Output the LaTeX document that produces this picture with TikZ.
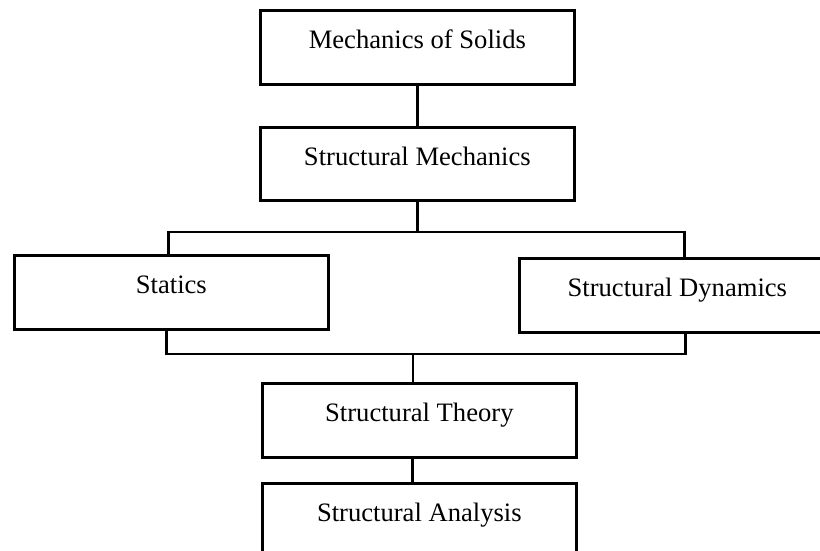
\documentclass[tikz,border=0pt]{standalone}
\usepackage{fontspec}
\setmainfont{Liberation Serif}
\usetikzlibrary{calc}
\tikzset{
  box/.style={draw=black, line width=2.7pt, inner sep=0pt, text height=38pt, text depth=36pt,
    minimum width=314pt, anchor=north west, font=\fontsize{26.6}{32}\selectfont},
  link/.style={draw=black, line width=2.3pt}
}
\begin{document}
\begin{tikzpicture}[x=1pt,y=1pt]
\useasboundingbox (0,0) rectangle (820,-550);
\node[box] (A) at (259,-9) {Mechanics of Solids};
\node[box, text depth=35pt] (B) at (259,-126) {Structural Mechanics};
\node[box] (C) at (13,-254) {Statics};
\node[box, minimum width=316pt] (D) at (518,-257) {Structural Dynamics};
\node[box] (E) at (261,-382) {Structural Theory};
\node[box] (F) at (261,-482) {Structural Analysis};
\coordinate (j1) at (415,-232);
\coordinate (j2) at (413,-354);
\draw[link] (A.south) -- (B.north);
\draw[link] (B.south) |- (j1);
\draw[link] ([xshift=-3pt]C.north) |- (j1) -| ([xshift=7pt]D.north);
\draw[link] ([xshift=-5pt]C.south) |- (j2) -| ([xshift=8pt]D.south);
\draw[link] (j2) -- (j2 |- E.north);
\draw[link] ([xshift=-7pt]E.south) -- ([xshift=-7pt]F.north);
\end{tikzpicture}
\end{document}
